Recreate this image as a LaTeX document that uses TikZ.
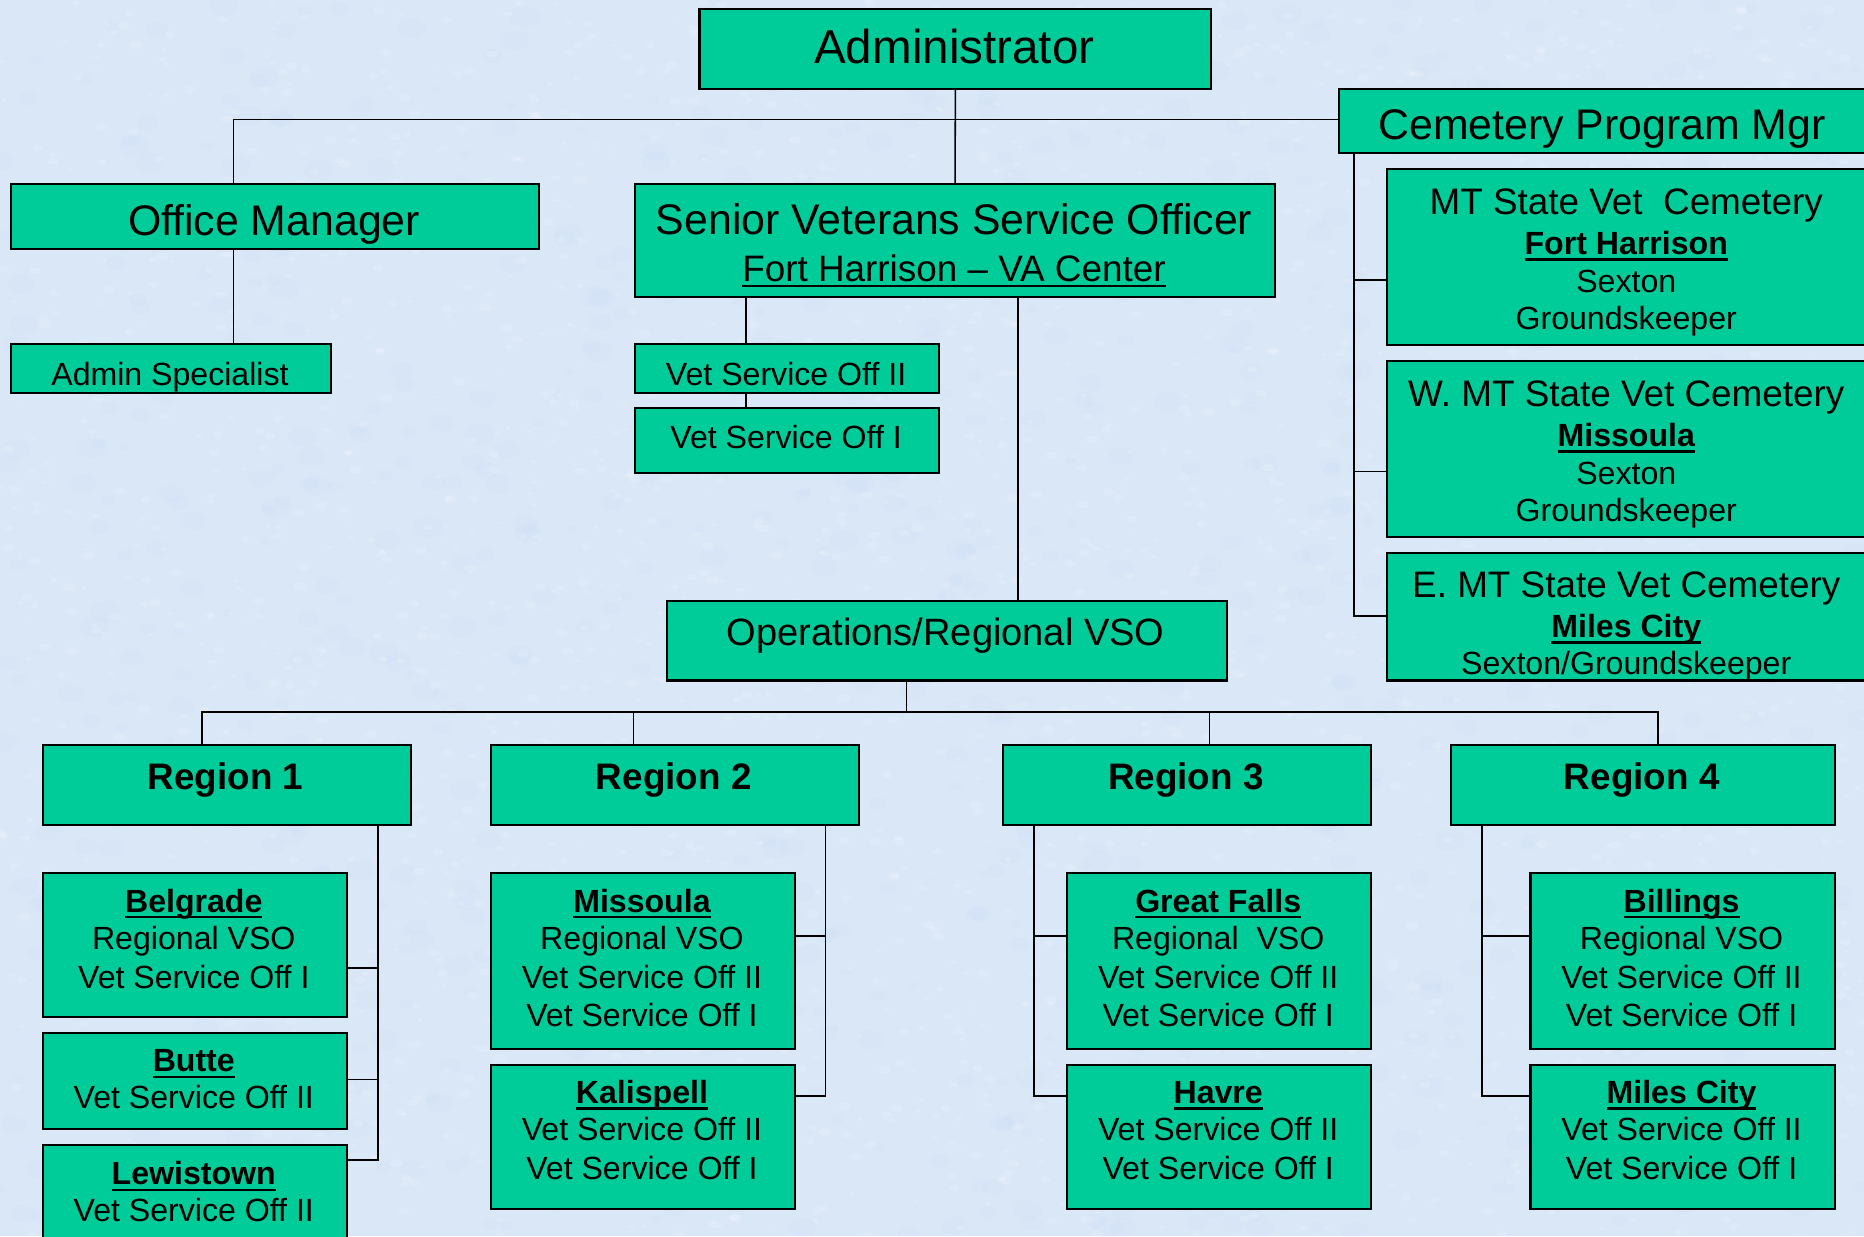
\documentclass[tikz,border=0pt]{standalone}
\usepackage{fontspec}
\setmainfont{Liberation Sans}
\usetikzlibrary{calc}
\definecolor{bgblue}{RGB}{218,231,247}
\definecolor{bgdark}{RGB}{196,215,242}
\definecolor{boxgreen}{RGB}{0,204,153}
\newcommand\ulb[1]{\setbox0\hbox{#1}\rlap{\rule[-0.2em]{\wd0}{0.08em}}\box0}
\newcommand\ulr[1]{\setbox0\hbox{#1}\rlap{\rule[-0.15em]{\wd0}{0.06em}}\box0}
\newcommand\boxnode[5]{%
  \pgfmathsetlengthmacro\bw{(#4)-(#2)}\pgfmathsetlengthmacro\bh{(#5)-(#3)}%
  \node[obox, minimum width=\bw, minimum height=\bh] (#1) at (#2,#3) {};}
\newcommand\tx[5]{\node[txt,#1] (#2) at (#3,#4) {#5};}
\frenchspacing
\begin{document}
\begin{tikzpicture}[x=1pt,y=-1pt,
  obox/.style={draw=black, line width=1.8pt, fill=boxgreen, rectangle, inner sep=0pt, anchor=north west},
  conn/.style={draw=black, line width=1.3pt},
  txt/.style={anchor=base, inner sep=0pt, text=black},
  fT/.style={font=\fontsize{40}{48}\selectfont},
  fH/.style={font=\fontsize{36}{43}\selectfont},
  fM/.style={font=\fontsize{31}{37}\selectfont},
  fO/.style={font=\fontsize{32}{38}\selectfont},
  fR/.style={font=\fontsize{31}{37}\selectfont\bfseries},
  fS/.style={font=\fontsize{27}{32}\selectfont},
  fSB/.style={font=\fontsize{27}{32}\selectfont\bfseries}]
\useasboundingbox (0,0) rectangle (1568,1040);
\clip (0,0) rectangle (1568,1040);
\fill[bgblue] (0,0) rectangle (1568,1040);
% faint mottled background texture
\pgfmathsetseed{7}
\foreach \i in {1,...,900}{%
  \pgfmathsetmacro\xx{rnd*1568}\pgfmathsetmacro\yy{rnd*1040}\pgfmathsetmacro\rr{4+rnd*9}%
  \fill[bgdark, opacity=0.12] (\xx,\yy) ellipse ({\rr} and {0.7*\rr});}
\foreach \i in {1,...,2500}{%
  \pgfmathsetmacro\xx{rnd*1568}\pgfmathsetmacro\yy{rnd*1040}\pgfmathsetmacro\rr{1.5+rnd*4}%
  \fill[white, opacity=0.16] (\xx,\yy) ellipse ({\rr} and {0.6*\rr});}

% boxes
\boxnode{admin}{587.5}{6.5}{1018}{74}
\boxnode{om}{8.5}{154.2}{452.5}{208.9}
\boxnode{as}{8.5}{288.8}{277.5}{330}
\boxnode{senior}{533.5}{154.2}{1071.5}{248.7}
\boxnode{vsoii}{533.5}{288.8}{789}{330}
\boxnode{vsoi}{533.5}{342.6}{789}{396.8}
\boxnode{cpm}{1125.5}{74.3}{1570}{127.7}
\boxnode{cemA}{1165.5}{141.2}{1570}{289.1}
\boxnode{cemB}{1165.5}{302.7}{1570}{450.6}
\boxnode{cemC}{1165.5}{464.5}{1570}{571.5}
\boxnode{ops}{560}{504.3}{1031}{571.5}
\boxnode{rA}{35}{625.7}{344.5}{693}
\boxnode{rB}{412}{625.7}{721.5}{693}
\boxnode{rC}{842.5}{625.7}{1152.5}{693}
\boxnode{rD}{1219.5}{625.7}{1542.5}{693}
\boxnode{belg}{35}{733.5}{291}{854.3}
\boxnode{butte}{35}{867.8}{291}{948.5}
\boxnode{lew}{35}{962.1}{291}{1050}
\boxnode{miss}{412}{733.5}{668}{881.6}
\boxnode{kal}{412}{895.1}{668}{1015.8}
\boxnode{gf}{897}{733.5}{1152.5}{881.6}
\boxnode{hav}{897}{895.1}{1152.5}{1015.8}
\boxnode{bil}{1286.5}{733.5}{1542.5}{881.6}
\boxnode{mc}{1286.5}{895.1}{1542.5}{1016}

% junction coordinates
\coordinate (ctop) at (196.5,100.6);
\coordinate (cs1) at (627.5,0);
\coordinate (cs2) at (856.5,0);
\coordinate (cc) at (1139,0);
\coordinate (cbA) at (1139,235.4);
\coordinate (cbB) at (1139,396.5);
\coordinate (cbC) at (1139,518.2);
\coordinate (cob) at (762.5,599);
\coordinate (bA) at (170,599);
\coordinate (bB) at (533,599);
\coordinate (bC) at (1017.5,599);
\coordinate (bD) at (1394.5,599);
\coordinate (kA1) at (318,814.3);
\coordinate (kA2) at (318,908);
\coordinate (kA3) at (318,975.6);
\coordinate (kB1) at (694.5,787.3);
\coordinate (kB2) at (694.5,921.8);
\coordinate (kC1) at (870,787.3);
\coordinate (kC2) at (870,921.8);
\coordinate (kD1) at (1246.5,787.3);
\coordinate (kD2) at (1246.5,921.8);

% connectors
\draw[conn] (ctop |- om.north) -- (ctop) -- (ctop -| cpm.west);
\draw[conn] (admin.south) -- (senior.north);
\draw[conn] (ctop |- om.south) -- (ctop |- as.north);
\draw[conn] (cs1 |- senior.south) -- (cs1 |- vsoii.north);
\draw[conn] (cs1 |- vsoii.south) -- (cs1 |- vsoi.north);
\draw[conn] (cs2 |- senior.south) -- (cs2 |- ops.north);
\draw[conn] (cc |- cpm.south) -- (cbC) -- (cbC -| cemC.west);
\draw[conn] (cbA) -- (cbA -| cemA.west);
\draw[conn] (cbB) -- (cbB -| cemB.west);
\draw[conn] (cob |- ops.south) -- (cob);
\draw[conn] (bA |- rA.north) -- (bA) -- (bD) -- (bD |- rD.north);
\draw[conn] (bB) -- (bB |- rB.north);
\draw[conn] (bC) -- (bC |- rC.north);
\draw[conn] (kA3 |- rA.south) -- (kA3) -- (kA3 -| lew.east);
\draw[conn] (kA1) -- (kA1 -| belg.east);
\draw[conn] (kA2) -- (kA2 -| butte.east);
\draw[conn] (kB2 |- rB.south) -- (kB2) -- (kB2 -| kal.east);
\draw[conn] (kB1) -- (kB1 -| miss.east);
\draw[conn] (kC2 |- rC.south) -- (kC2) -- (kC2 -| hav.west);
\draw[conn] (kC1) -- (kC1 -| gf.west);
\draw[conn] (kD2 |- rD.south) -- (kD2) -- (kD2 -| mc.west);
\draw[conn] (kD1) -- (kD1 -| bil.west);

% texts
\tx{fT}{tAdmin}{802.75}{53.3}{Administrator}
\tx{fH}{tOM}{230.5}{197.7}{Office Manager}
\tx{fH}{tSen1}{802.5}{197}{Senior Veterans Service Officer}
\tx{fM}{tSen2}{802.5}{236.6}{\ulr{Fort Harrison \textendash{} VA Center}}
\tx{fH}{tCPM}{1347.5}{117}{Cemetery Program Mgr}
\tx{fS}{tAS}{143}{323.9}{Admin Specialist}
\tx{fS}{tV2}{661.25}{323.9}{Vet Service Off II}
\tx{fS}{tV1}{661.25}{377.1}{Vet Service Off I}

\tx{fM}{tCA1}{1368}{180.2}{MT State Vet\ \ Cemetery}
\tx{fSB}{tCA2}{1368}{214}{\ulb{Fort Harrison}}
\tx{fS}{tCA3}{1368}{246}{Sexton}
\tx{fS}{tCA4}{1368}{277}{Groundskeeper}
\tx{fM}{tCB1}{1368}{341.7}{W. MT State Vet Cemetery}
\tx{fSB}{tCB2}{1368}{375.5}{\ulb{Missoula}}
\tx{fS}{tCB3}{1368}{407.4}{Sexton}
\tx{fS}{tCB4}{1368}{438.6}{Groundskeeper}
\tx{fM}{tCC1}{1368}{502.4}{E. MT State Vet Cemetery}
\tx{fSB}{tCC2}{1368}{536.2}{\ulb{Miles City}}
\tx{fS}{tCC3}{1368}{567.8}{Sexton/Groundskeeper}

\tx{fO}{tOps}{795.5}{542.6}{Operations/Regional VSO}
\tx{fR}{tRA}{189.75}{664.2}{Region 1}
\tx{fR}{tRB}{566.75}{664.2}{Region 2}
\tx{fR}{tRC}{997.5}{664.2}{Region 3}
\tx{fR}{tRD}{1381}{664.2}{Region 4}

\tx{fSB}{tBe1}{163}{767.2}{\ulb{Belgrade}}
\tx{fS}{tBe2}{163}{798.8}{Regional VSO}
\tx{fS}{tBe3}{163}{831.8}{Vet Service Off I}
\tx{fSB}{tBu1}{163}{901.7}{\ulb{Butte}}
\tx{fS}{tBu2}{163}{932.5}{Vet Service Off II}
\tx{fSB}{tLe1}{163}{996.6}{\ulb{Lewistown}}
\tx{fS}{tLe2}{163}{1027.3}{Vet Service Off II}

\tx{fSB}{tMi1}{540}{767.2}{\ulb{Missoula}}
\tx{fS}{tMi2}{540}{798.8}{Regional VSO}
\tx{fS}{tMi3}{540}{831.8}{Vet Service Off II}
\tx{fS}{tMi4}{540}{863.5}{Vet Service Off I}
\tx{fSB}{tKa1}{540}{928.2}{\ulb{Kalispell}}
\tx{fS}{tKa2}{540}{959.8}{Vet Service Off II}
\tx{fS}{tKa3}{540}{992}{Vet Service Off I}

\tx{fSB}{tGf1}{1024.75}{767.2}{\ulb{Great Falls}}
\tx{fS}{tGf2}{1024.75}{798.8}{Regional\ \ VSO}
\tx{fS}{tGf3}{1024.75}{831.8}{Vet Service Off II}
\tx{fS}{tGf4}{1024.75}{863.5}{Vet Service Off I}
\tx{fSB}{tHa1}{1024.75}{928.2}{\ulb{Havre}}
\tx{fS}{tHa2}{1024.75}{959.8}{Vet Service Off II}
\tx{fS}{tHa3}{1024.75}{992}{Vet Service Off I}

\tx{fSB}{tBi1}{1414.5}{767.2}{\ulb{Billings}}
\tx{fS}{tBi2}{1414.5}{798.8}{Regional VSO}
\tx{fS}{tBi3}{1414.5}{831.8}{Vet Service Off II}
\tx{fS}{tBi4}{1414.5}{863.5}{Vet Service Off I}
\tx{fSB}{tMc1}{1414.5}{928.2}{\ulb{Miles City}}
\tx{fS}{tMc2}{1414.5}{959.8}{Vet Service Off II}
\tx{fS}{tMc3}{1414.5}{992}{Vet Service Off I}
\end{tikzpicture}
\end{document}
